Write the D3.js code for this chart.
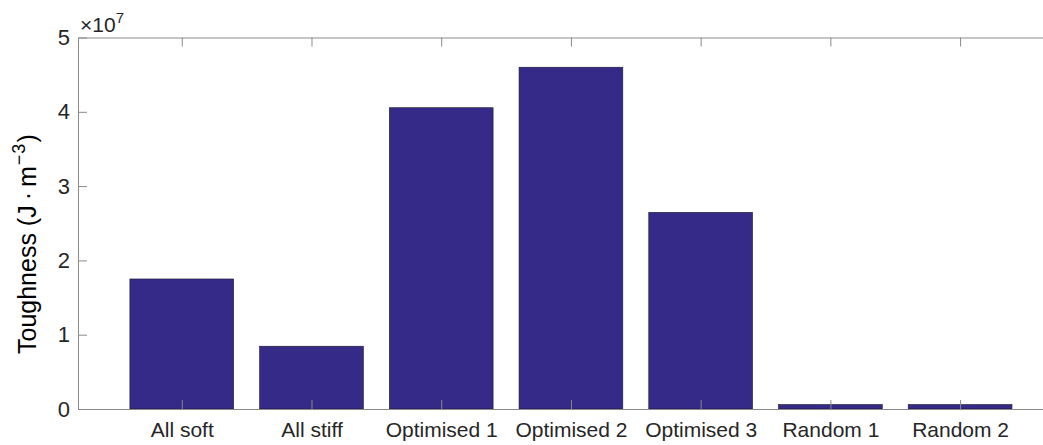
<!DOCTYPE html>
<html>
<head>
<meta charset="utf-8">
<script src="https://cdn.jsdelivr.net/npm/d3@7"></script>
<style>
  body { margin: 0; background: #fff; }
  svg { display: block; font-family: "Liberation Sans", Arial, sans-serif; }
</style>
</head>
<body>
<script>
// categories and toughness values (x 10^7 J/m^3)
const categories = ["All soft", "All stiff", "Optimised 1", "Optimised 2", "Optimised 3", "Random 1", "Random 2"];
const toughness = [1.75, 0.845, 4.055, 4.6, 2.647, 0.06, 0.06];
const yTicks = [0, 1, 2, 3, 4, 5];

const largeur = 1043, hauteur = 445;
const marges = { top: 37.5, left: 78, bottom: 409 };

const svg = d3.select("body").append("svg")
    .attr("width", largeur)
    .attr("height", hauteur);

// x: positions 1..7, xlim [0.2, 7.8] (right side runs off the picture)
const pas = (960 - 181) / 6;
const echelleX = d3.scaleLinear()
    .domain([0.2, 7.8])
    .range([marges.left, 181 + 6.8 * pas]);

const echelleY = d3.scaleLinear()
    .domain([0, 5])
    .range([marges.bottom, marges.top]);

const couleurAxe = "#8a8a8a";
const couleurTexte = "#262626";

// bars
svg.append("g").selectAll("rect")
    .data(toughness)
    .enter().append("rect")
    .attr("x", (d, i) => echelleX(i + 1 - 0.4))
    .attr("width", echelleX(1.4) - echelleX(0.6))
    .attr("y", d => echelleY(d))
    .attr("height", d => echelleY(0) - echelleY(d))
    .attr("fill", "#352a87")
    .attr("stroke", "#1a1a2e")
    .attr("stroke-width", 0.6);

// bottom axis
const axeBas = d3.axisBottom(echelleX)
    .tickValues(d3.range(1, categories.length + 1))
    .tickFormat((d, i) => categories[i])
    .tickSizeInner(-9).tickSizeOuter(0).tickPadding(13);
const gBas = svg.append("g")
    .attr("transform", "translate(0," + marges.bottom + ")")
    .call(axeBas);
gBas.select(".domain").attr("stroke", couleurAxe);
gBas.selectAll(".tick line").attr("stroke", couleurAxe);
gBas.selectAll("text").attr("font-size", 21).attr("fill", couleurTexte).attr("font-family", "Liberation Sans, Arial, sans-serif");

// top axis (box line with ticks, no labels)
const axeHaut = d3.axisTop(echelleX)
    .tickValues(d3.range(1, categories.length + 1))
    .tickFormat("")
    .tickSizeInner(-9).tickSizeOuter(0);
const gHaut = svg.append("g")
    .attr("transform", "translate(0," + marges.top + ")")
    .call(axeHaut);
gHaut.select(".domain").attr("stroke", couleurAxe);
gHaut.selectAll(".tick line").attr("stroke", couleurAxe);

// left axis
const axeGauche = d3.axisLeft(echelleY)
    .tickValues(yTicks)
    .tickFormat(d3.format("d"))
    .tickSizeInner(-9).tickSizeOuter(0).tickPadding(8);
const gGauche = svg.append("g")
    .attr("transform", "translate(" + marges.left + ",0)")
    .call(axeGauche);
gGauche.select(".domain").attr("stroke", couleurAxe);
gGauche.selectAll(".tick line").attr("stroke", couleurAxe);
gGauche.selectAll("text").attr("font-size", 22).attr("fill", couleurTexte).attr("font-family", "Liberation Sans, Arial, sans-serif");

// exponent label
const expo = svg.append("text")
    .attr("x", marges.left + 2)
    .attr("y", 32)
    .attr("font-size", 21)
    .attr("fill", couleurTexte);
expo.append("tspan").text("\u00d710");
expo.append("tspan").attr("font-size", 15).attr("dy", -9).text("7");

// y label, starting at the bottom (TeX-like spacing round the dot)
const titreY = svg.append("text")
    .attr("transform", "translate(36,354) rotate(-90)")
    .attr("text-anchor", "start")
    .attr("font-size", 25)
    .attr("fill", "#000");
titreY.append("tspan").text("Toughness (J");
titreY.append("tspan").attr("dx", 5).text("\u00b7");
titreY.append("tspan").attr("dx", 5).text("m");
titreY.append("tspan").attr("font-size", 18).attr("dy", -11).attr("dx", 1).text("\u2212");
titreY.append("tspan").attr("font-size", 18).attr("dx", 1).text("3");
titreY.append("tspan").attr("dy", 11).attr("dx", 1).text(")");
</script>
</body>
</html>
